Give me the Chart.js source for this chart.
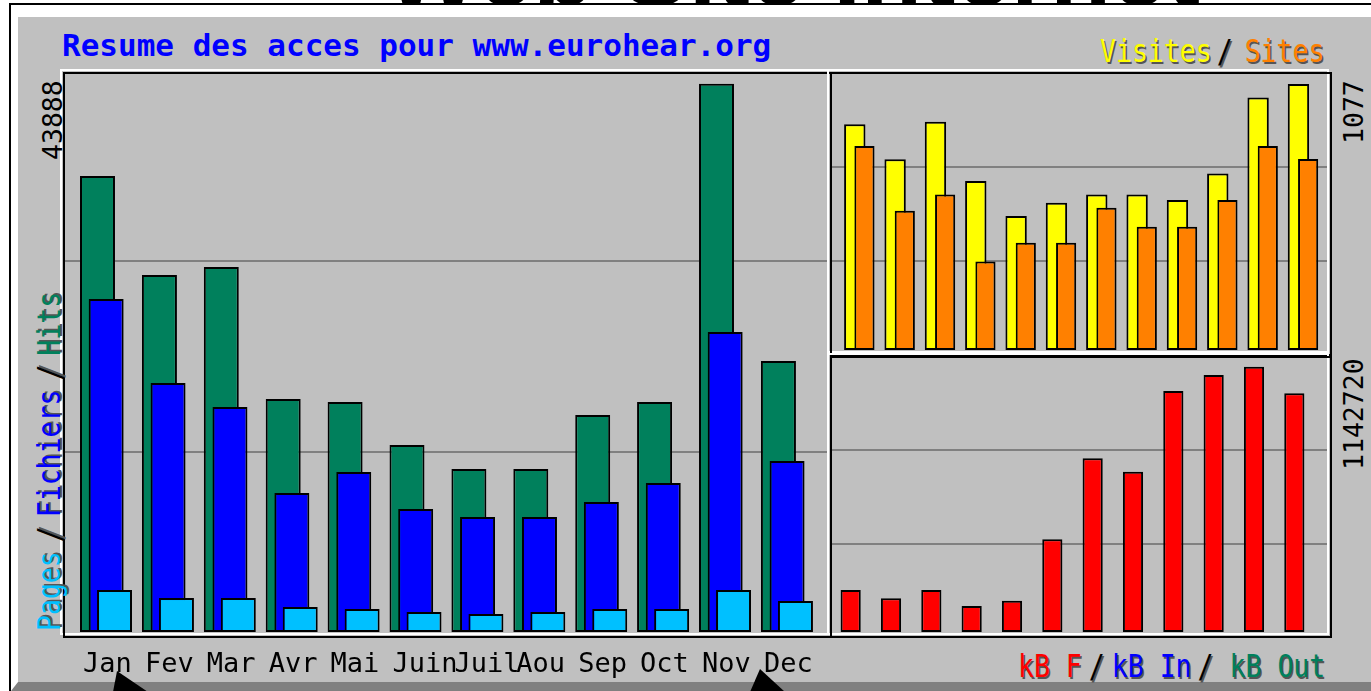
<!DOCTYPE html>
<html>
<head>
<meta charset="utf-8">
<title>Resume des acces pour www.eurohear.org</title>
<script src="https://cdn.jsdelivr.net/npm/chart.js@4/dist/chart.umd.min.js"></script>
<style>
  body { margin: 0; width: 1371px; height: 691px; overflow: hidden; background: #fff; position: relative; font-family: 'DejaVu Sans Mono', monospace; }
  .abs { position: absolute; box-sizing: border-box; }
  #heading { left: 385px; top: -80px; font: bold 100px 'Liberation Sans', sans-serif; line-height: 1; white-space: nowrap; color: #000; }
  #frame { left: 9px; top: 3px; right: 0; bottom: 0; border-left: 2px solid #000; border-top: 2px solid #000; }
  #panel { left: 11px; top: 5px; right: 0; bottom: 0; background: #c0c0c0; border-left: 7px solid #fff; border-top: 12px solid #fff; border-bottom: 9px solid #808080; }
  .lite { border: 2px solid #fff; }
  .dark { border: 2px solid #000; }
  .txt { white-space: nowrap; line-height: 1; transform-origin: 0 0; font-size: 26.5px; }
  .shadow span { text-shadow: 1.5px 1.5px 0 #555; }
  .sl { color: #000; padding: 0 7px; }
  .box { position: absolute; }
  .cursor { position: absolute; width: 40px; height: 30px; }
</style>
</head>
<body>
<div class="abs" id="heading">Web Site Internet</div>
<div class="abs" id="frame"></div>
<div class="abs" id="panel"></div>

<!-- 3D panel outlines -->
<div class="abs lite" style="left:60px;top:69px;width:769px;height:566px"></div>
<div class="abs dark" style="left:63px;top:72px;width:769px;height:566px"></div>
<div class="abs lite" style="left:827px;top:69px;width:502px;height:284px"></div>
<div class="abs dark" style="left:830px;top:72px;width:502px;height:284px"></div>
<div class="abs lite" style="left:827px;top:353px;width:502px;height:282px"></div>
<div class="abs dark" style="left:830px;top:356px;width:502px;height:282px"></div>

<!-- texts -->
<div class="abs txt" style="left:62px;top:30px;font-size:31px;font-weight:bold;color:#0000ff">Resume des acces pour www.eurohear.org</div>
<div class="abs txt shadow" style="left:1100px;top:35px;transform:scaleY(1.22)"><span style="color:#ffff00">Visites</span><span class="sl" style="padding:0 12px 0 5px">/</span><span style="color:#ff8000">Sites</span></div>
<div class="abs txt shadow" style="left:1018px;top:651px;transform:scaleY(1.2)"><span style="color:#ff0000">kB F</span><span class="sl">/</span><span style="color:#0000ff">kB In</span><span class="sl" style="padding:0 16px 0 6px">/</span><span style="color:#00805c">kB Out</span></div>
<div class="abs txt shadow" style="left:34px;top:631px;transform:rotate(-90deg) scaleY(1.2)"><span style="color:#00c0ff">Pages</span><span class="sl" style="padding:0 9px">/</span><span style="color:#0000ff">Fichiers</span><span class="sl" style="padding:0 9px">/</span><span style="color:#00805c">Hits</span></div>
<div class="abs txt" id="maxHits" style="left:40px;top:160px;color:#000;transform:rotate(-90deg)"></div>
<div class="abs txt" id="maxVisits" style="left:1341px;top:144px;color:#000;transform:rotate(-90deg)"></div>
<div class="abs txt" id="maxKbytes" style="left:1341px;top:470px;color:#000;transform:rotate(-90deg)"></div>

<div class="box" style="left:65px;top:74px;width:762px;height:608px"><canvas id="mainChart"></canvas></div>
<div class="box" style="left:832px;top:74px;width:495px;height:276px"><canvas id="visitsChart"></canvas></div>
<div class="box" style="left:832px;top:358px;width:495px;height:274px"><canvas id="kbytesChart"></canvas></div>

<!-- mouse pointers caught in the screenshot -->
<svg class="cursor" style="left:112px;top:671px"><polygon points="5,0 1,21 36,21" fill="#000"/></svg>
<svg class="cursor" style="left:748px;top:669px"><polygon points="12,0 2,23 37,23" fill="#000"/></svg>

<script>
// Monthly summary values
const months = ['Jan', 'Fev', 'Mar', 'Avr', 'Mai', 'Juin', 'Juil', 'Aou', 'Sep', 'Oct', 'Nov', 'Dec'];
const hits = [36520, 28590, 29230, 18660, 18420, 14980, 13050, 13050, 17380, 18420, 43888, 21700];
const files = [26670, 19940, 18020, 11130, 12810, 9850, 9210, 9210, 10410, 11930, 24030, 13690];
const pages = [3360, 2720, 2720, 2000, 1840, 1600, 1440, 1600, 1840, 1840, 3360, 2480];
const visits = [914, 772, 924, 684, 543, 596, 630, 630, 607, 715, 1022, 1077];
const sites = [826, 564, 630, 358, 434, 434, 576, 499, 499, 607, 826, 773];
const kbytes = [180900, 145150, 180900, 111990, 134820, 399280, 748170, 690450, 1038050, 1106970, 1142720, 1028140];

// grid lines sit at these fractions of each panel's height
const gridFractions = [0.322, 0.664];

Chart.defaults.font.family = "'DejaVu Sans Mono', monospace";
Chart.defaults.animation = false;
Chart.defaults.plugins.legend.display = false;
Chart.defaults.plugins.tooltip.enabled = false;

function points(values, shift) {
  return values.map((v, i) => ({ x: i + shift, y: v }));
}

function barSet(values, shift, color, axis, order, width) {
  return {
    data: points(values, shift),
    xAxisID: axis,
    backgroundColor: color,
    borderColor: '#000',
    borderWidth: 2,
    borderSkipped: false,
    grouped: false,
    order: order,
    categoryPercentage: 1,
    barPercentage: width
  };
}

function hiddenX(min, max) {
  return { type: 'linear', display: false, offset: false, min: min, max: max };
}

function valueAxis(max) {
  return {
    min: 0,
    max: max,
    ticks: { display: false },
    border: { display: false },
    grid: { color: '#808080', lineWidth: 2, drawTicks: false },
    afterBuildTicks: scale => {
      scale.ticks = gridFractions.map(f => ({ value: f * scale.max }));
    },
    afterFit: scale => { scale.width = 0; }
  };
}

function initializeMainChart() {
  const xMin = -0.525, xMax = 11.785;
  new Chart(document.getElementById('mainChart'), {
    type: 'bar',
    data: {
      datasets: [
        barSet(hits, 0, '#00805c', 'x', 3, 0.565),
        barSet(files, 0.14, '#0000ff', 'xf', 2, 0.565),
        barSet(pages, 0.275, '#00c0ff', 'xp', 1, 0.565)
      ]
    },
    options: {
      responsive: true,
      maintainAspectRatio: false,
      devicePixelRatio: 1,
      layout: { padding: 0 },
      scales: {
        x: {
          type: 'linear',
          offset: false,
          min: xMin,
          max: xMax,
          grid: { display: false, drawTicks: false },
          border: { display: false },
          ticks: {
            autoSkip: false,
            maxRotation: 0,
            minRotation: 0,
            align: 'start',
            labelOffset: -14.5,
            padding: 17,
            color: '#000',
            font: { size: 27 },
            callback: value => months[value]
          },
          afterBuildTicks: scale => {
            scale.ticks = months.map((m, i) => ({ value: i }));
          },
          afterFit: scale => {
            scale.height = 50;
            scale.paddingLeft = 0;
            scale.paddingRight = 0;
          }
        },
        xf: hiddenX(xMin, xMax),
        xp: hiddenX(xMin, xMax),
        y: valueAxis(Math.max(...hits) * 1.018)
      }
    }
  });
}

function initializeVisitsChart() {
  const xMin = -0.565, xMax = 11.708;
  new Chart(document.getElementById('visitsChart'), {
    type: 'bar',
    data: {
      datasets: [
        barSet(visits, 0, '#ffff00', 'x', 2, 0.53),
        barSet(sites, 0.24, '#ff8000', 'xs', 1, 0.5)
      ]
    },
    options: {
      responsive: true,
      maintainAspectRatio: false,
      devicePixelRatio: 1,
      scales: {
        x: hiddenX(xMin, xMax),
        xs: hiddenX(xMin, xMax),
        y: valueAxis(Math.max(...visits) * 1.0376)
      }
    }
  });
}

function initializeKbytesChart() {
  const xMin = -0.565, xMax = 11.708;
  new Chart(document.getElementById('kbytesChart'), {
    type: 'bar',
    data: {
      datasets: [barSet(kbytes, -0.102, '#ff0000', 'x', 1, 0.5)]
    },
    options: {
      responsive: true,
      maintainAspectRatio: false,
      devicePixelRatio: 1,
      scales: {
        x: hiddenX(xMin, xMax),
        y: valueAxis(Math.max(...kbytes) * 1.0328)
      }
    }
  });
}

// max labels come from the data
document.getElementById('maxHits').textContent = Math.max(...hits);
document.getElementById('maxVisits').textContent = Math.max(...visits);
document.getElementById('maxKbytes').textContent = Math.max(...kbytes);

initializeMainChart();
initializeVisitsChart();
initializeKbytesChart();
</script>
</body>
</html>
